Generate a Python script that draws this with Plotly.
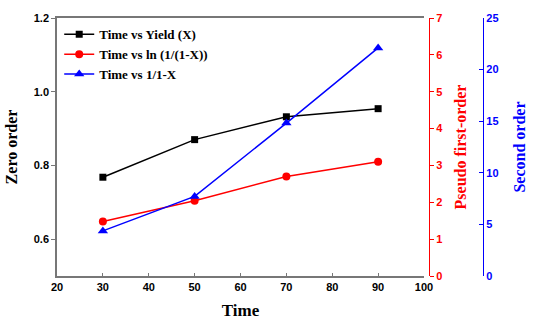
import plotly.graph_objects as go

# Reaction time (min)
time = [30, 50, 70, 90]
# Zero order: yield X
yield_x = [0.768, 0.870, 0.932, 0.954]
# Pseudo first-order: ln(1/(1-X))
ln_term = [1.48, 2.04, 2.70, 3.10]
# Second order: 1/(1-X)
inv_term = [4.37, 7.71, 14.82, 22.1]

W, H = 538, 331
L, R, T, B = 57, 38, 18, 55
pw = W - L - R
x_end = (424 - L) / pw
red_pos = (429 - L) / pw
blue_pos = (483 - L) / pw

SERIF = "Liberation Serif, Times New Roman, serif"
SANS = "Liberation Sans, Arial, sans-serif"

tick_font = dict(family=SANS, size=11, weight="bold", color="black")
title_font = dict(family=SERIF, size=16, weight="bold", color="black")

fig = go.Figure()
fig.add_trace(go.Scatter(
    x=time, y=yield_x, name="Time vs Yield (X)", mode="lines+markers",
    line=dict(color="black", width=1.5),
    marker=dict(symbol="square", size=7, color="black"),
    yaxis="y"))
fig.add_trace(go.Scatter(
    x=time, y=ln_term, name="Time vs ln (1/(1-X))", mode="lines+markers",
    line=dict(color="#ff0000", width=1.5),
    marker=dict(symbol="circle", size=8, color="#ff0000"),
    yaxis="y2"))
fig.add_trace(go.Scatter(
    x=time, y=inv_term, name="Time vs 1/1-X", mode="lines+markers",
    line=dict(color="#0000ff", width=1.5),
    marker=dict(symbol="triangle-up", size=9, color="#0000ff"),
    yaxis="y3"))

fig.update_layout(
    width=W, height=H,
    margin=dict(l=L, r=R, t=T, b=B),
    paper_bgcolor="white", plot_bgcolor="white",
    showlegend=True,
    legend=dict(x=0.005, y=0.995, xanchor="left", yanchor="top",
                bgcolor="rgba(0,0,0,0)", tracegroupgap=0,
                font=dict(family=SERIF, size=13, weight="bold", color="black"),
                itemwidth=30),
    xaxis=dict(domain=[0, x_end], range=[20, 100], dtick=10, tick0=20,
               showline=True, linecolor="#777777", linewidth=1.5, mirror=True,
               ticks="inside", ticklen=3, tickcolor="#777777",
               showgrid=False, zeroline=False,
               tickfont=tick_font,
               title=dict(text="Time", font=dict(family=SERIF, size=17, weight="bold", color="black"),
                          standoff=12)),
    yaxis=dict(range=[0.5, 1.2], tick0=0.6, dtick=0.2, tickformat=".1f",
               showline=True, linecolor="#777777", linewidth=1.5,
               ticks="outside", ticklen=4, tickcolor="#777777",
               showgrid=False, zeroline=False,
               tickfont=tick_font,
               title=dict(text="Zero order", font=title_font, standoff=12)),
    yaxis2=dict(range=[0, 7], dtick=1, overlaying="y", anchor="free",
                side="right", position=red_pos,
                showline=True, linecolor="#ff0000", linewidth=1.2,
                ticks="outside", ticklen=4, tickcolor="#ff0000",
                showgrid=False, zeroline=False,
                tickfont=dict(family=SANS, size=11, weight="bold", color="#ff0000"),
                title=dict(text="Pseudo first-order", standoff=12,
                           font=dict(family=SERIF, size=16, weight="bold", color="#ff0000"))),
    yaxis3=dict(range=[0, 25], dtick=5, overlaying="y", anchor="free",
                side="right", position=blue_pos,
                showline=True, linecolor="#0000ff", linewidth=1.2,
                ticks="inside", ticklen=4, tickcolor="#0000ff",
                showgrid=False, zeroline=False,
                tickfont=dict(family=SANS, size=11, weight="bold", color="#0000ff"),
                title=dict(text="Second order", standoff=16,
                           font=dict(family=SERIF, size=16, weight="bold", color="#0000ff"))),
)

fig.write_html("out.html")
